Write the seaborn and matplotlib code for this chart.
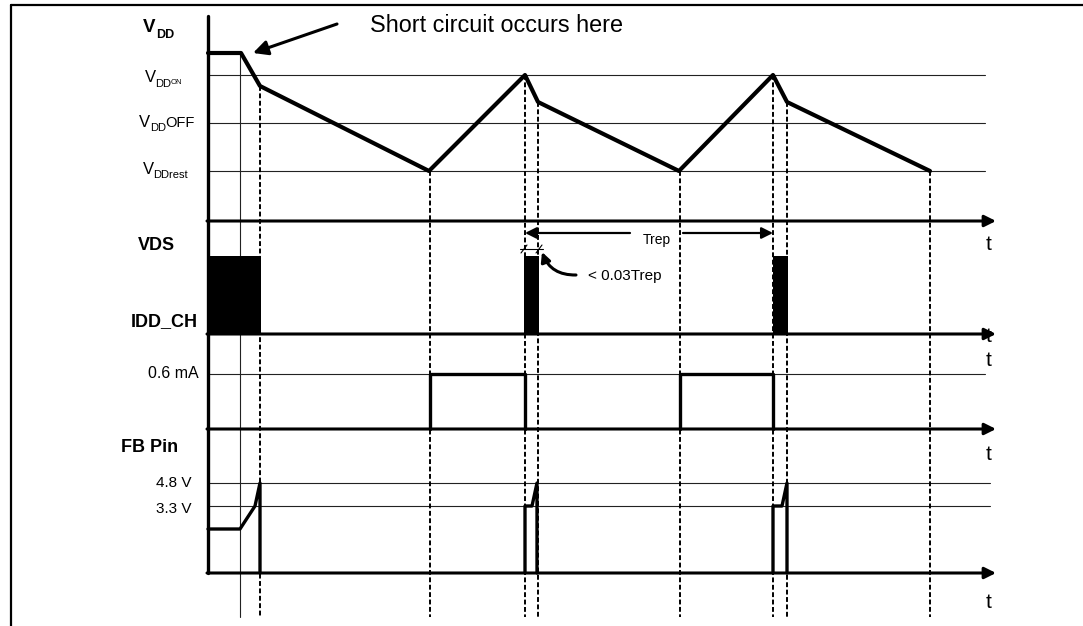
import matplotlib
matplotlib.use("Agg")
import matplotlib.pyplot as plt
import seaborn as sns

# --- waveform data (time axis in drawing units, levels in drawing units, y grows downward)
vdd_t = [208, 241, 260, 429, 525, 538, 679, 773, 787, 930]
vdd_y = [53, 53, 86, 171, 75, 102, 171, 75, 102, 171]

vdd_levels = [75, 123, 171]          # VDDON, VDDOFF, VDDrest
idd_level = 374                      # 0.6 mA
fb_levels = [483, 506]               # 4.8 V, 3.3 V

axis_rows = [221, 334, 429, 573]     # time axes of the four traces
t_label_y = [245, 337, 361, 455, 602]

vds_start = [208, 524, 773]
vds_end = [261, 539, 788]
vds_top, vds_base = 256, 334

idd_on = [430, 680]
idd_off = [525, 773]

fb_t0 = [208, 240, 255, 260, 260]
fb_y0 = [529, 529, 506, 483, 573]
fb_t1 = [525, 525, 532, 537, 537]
fb_y1 = [573, 506, 506, 483, 573]
fb_t2 = [773, 773, 782, 787, 787]
fb_y2 = [573, 506, 506, 483, 573]

dash_t = [260, 430, 525, 538, 680, 773, 787, 930]
dash_top = [86, 171, 75, 102, 171, 75, 102, 171]

trep_start, trep_end = 525, 773

sns.set_style("white")
plt.rcParams['font.family'] = ['Liberation Sans', 'DejaVu Sans']
plt.rcParams['text.color'] = 'black'

fig = plt.figure(figsize=(10.83, 6.26), dpi=100)
ax = fig.add_axes([0, 0, 1, 1])
ax.set_xlim(0, 1083)
ax.set_ylim(626, 0)
ax.axis('off')

# frame
ax.plot([11, 1083], [5, 5], color='black', lw=1.6)
ax.plot([11, 11], [5, 626], color='black', lw=1.6)

# thin reference levels
for y in vdd_levels:
    ax.plot([208, 985], [y, y], color='#222222', lw=0.8)
ax.plot([208, 985], [idd_level, idd_level], color='#222222', lw=0.8)
for y in fb_levels:
    ax.plot([208, 990], [y, y], color='#222222', lw=0.8)

# vertical marker lines
ax.plot([240, 240], [53, 617], color='#222222', lw=0.8)
for x, top in zip(dash_t, dash_top):
    ax.plot([x, x], [top, 617], color='black', lw=1.4, linestyle=(0, (2.5, 1.3)))

# main vertical axis
ax.plot([208, 208], [16, 573], color='black', lw=2.4)

# time axes with arrow heads
for y in axis_rows:
    ax.annotate('', xy=(996, y), xytext=(207, y),
                arrowprops=dict(arrowstyle='-|>', lw=2.2, color='black',
                                mutation_scale=17, shrinkA=0, shrinkB=0))
for y in t_label_y:
    ax.text(989, y, 't', fontsize=15, ha='center', va='center')

# VDD trace
sns.lineplot(x=vdd_t, y=vdd_y, sort=False, estimator=None, color='black', lw=3, ax=ax)

# VDS bursts
ax.bar(vds_start, [vds_base - vds_top] * len(vds_start),
       width=[e - s for s, e in zip(vds_start, vds_end)], bottom=vds_top,
       align='edge', color='black', linewidth=0, zorder=4)

# IDD_CH current steps
for on, off in zip(idd_on, idd_off):
    sns.lineplot(x=[on, on, off, off], y=[axis_rows[2], idd_level, idd_level, axis_rows[2]],
                 sort=False, estimator=None, color='black', lw=2.4, ax=ax)

# FB pin
for tt, yy in [(fb_t0, fb_y0), (fb_t1, fb_y1), (fb_t2, fb_y2)]:
    sns.lineplot(x=tt, y=yy, sort=False, estimator=None, color='black', lw=2.4, ax=ax)

# labels
ax.text(143, 28, 'V', fontsize=13.5, fontweight='bold', va='center')
ax.text(156, 35, 'DD', fontsize=9, fontweight='bold', va='center')

ax.text(145, 78, 'V', fontsize=12, va='center')
ax.text(155, 84, 'DD', fontsize=8, va='center')
ax.text(170.5, 82, 'ON', fontsize=5.5, va='center')

ax.text(139, 122.5, 'V', fontsize=12, va='center')
ax.text(150, 128, 'DD', fontsize=8, va='center')
ax.text(165, 123, 'OFF', fontsize=10.5, va='center')

ax.text(143, 169, 'V', fontsize=12, va='center')
ax.text(153.5, 175, 'DDrest', fontsize=8, va='center')

ax.text(138, 245, 'VDS', fontsize=13, fontweight='bold', va='center')
ax.text(131, 322, 'IDD_CH', fontsize=13, fontweight='bold', va='center')
ax.text(199, 374, '0.6 mA', fontsize=11.5, ha='right', va='center')
ax.text(121, 448, 'FB Pin', fontsize=13, fontweight='bold', va='center')
ax.text(192, 483, '4.8 V', fontsize=11, ha='right', va='center')
ax.text(192, 509, '3.3 V', fontsize=11, ha='right', va='center')

# short circuit note
ax.text(370, 26, 'Short circuit occurs here', fontsize=16.8, va='center')
ax.annotate('', xy=(253, 53), xytext=(337, 24),
            arrowprops=dict(arrowstyle='-|>', lw=2.2, color='black',
                            mutation_scale=22, shrinkA=0, shrinkB=0))

# Trep dimension (two halves, gap for the label)
ax.annotate('', xy=(trep_start, 233), xytext=(630, 233),
            arrowprops=dict(arrowstyle='-|>', lw=1.6, color='black',
                            mutation_scale=17, shrinkA=0, shrinkB=0))
ax.annotate('', xy=(trep_end, 233), xytext=(683, 233),
            arrowprops=dict(arrowstyle='-|>', lw=1.6, color='black',
                            mutation_scale=17, shrinkA=0, shrinkB=0))
ax.text(657, 240, 'Trep', fontsize=10, ha='center', va='center')

# < 0.03Trep mark
ax.plot([520, 543], [249, 249], color='black', lw=0.8)
ax.plot([521, 527], [253, 245], color='black', lw=0.8)
ax.plot([536, 542], [253, 245], color='black', lw=0.8)
ax.text(588, 276, '< 0.03Trep', fontsize=11, va='center')
ax.annotate('', xy=(542, 252), xytext=(576, 275),
            arrowprops=dict(arrowstyle='-|>', lw=2.2, color='black',
                            mutation_scale=14, shrinkA=0, shrinkB=0,
                            connectionstyle='arc3,rad=-0.35'))

fig.savefig('out.png', dpi=100)
